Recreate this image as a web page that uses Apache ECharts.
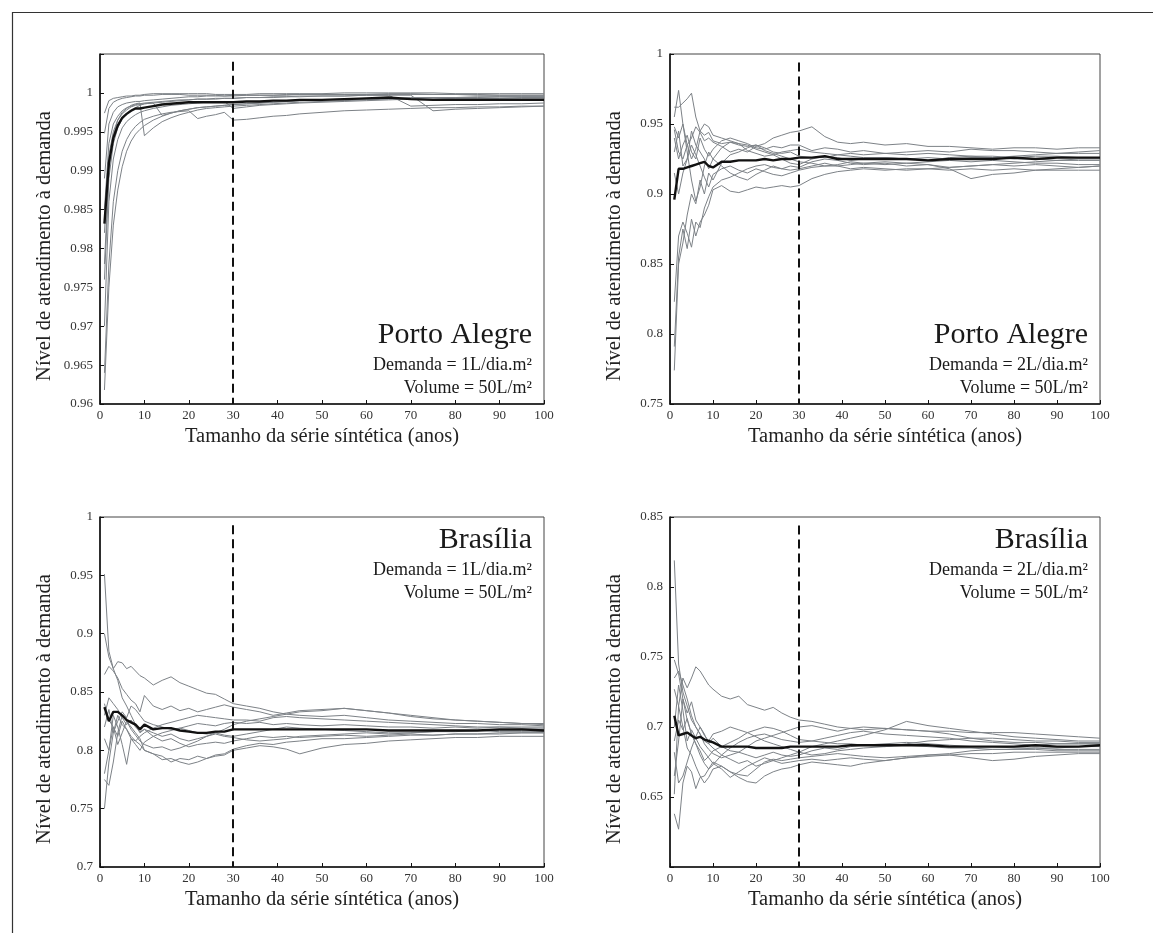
<!DOCTYPE html>
<html>
<head>
<meta charset="utf-8">
<script src="https://cdn.jsdelivr.net/npm/echarts@6/dist/echarts.min.js"></script>
<style>
html,body{margin:0;padding:0;background:#fff;}
#chart{width:1153px;height:933px;}
</style>
</head>
<body>
<div id="chart"></div>
<script>
// ---------- DATA ----------
const years = [1,2,3,4,5,6,7,8,9,10,12,14,16,18,20,22,24,26,28,30,33,36,39,42,45,50,55,60,65,70,75,80,85,90,95,100];
const xTicks = [0,10,20,30,40,50,60,70,80,90,100];
const refYear = 30;

const xTitle = 'Tamanho da série síntética (anos)';
const yTitle = 'Nível de atendimento à demanda';

const cityNames = ['Porto Alegre','Porto Alegre','Brasília','Brasília'];
const demandLabels = ['Demanda = 1L/dia.m²','Demanda = 2L/dia.m²','Demanda = 1L/dia.m²','Demanda = 2L/dia.m²'];
const volumeLabels = ['Volume = 50L/m²','Volume = 50L/m²','Volume = 50L/m²','Volume = 50L/m²'];

// Panel 1 : Porto Alegre, 1 L/dia.m²
const pa1Mean = [0.9832,0.9910,0.9942,0.9958,0.9968,0.9973,0.9977,0.9980,0.9980,0.9981,0.9983,0.9985,0.9986,0.9987,0.9988,0.9988,0.9988,0.9988,0.9988,0.9988,0.9989,0.9989,0.9990,0.9990,0.9991,0.9991,0.9992,0.9993,0.9994,0.9992,0.9991,0.9991,0.9991,0.9991,0.9991,0.9991];
const pa1Runs = [
 [0.9974,0.9990,0.9993,0.9994,0.9995,0.9996,0.9996,0.9997,0.9997,0.9998,0.9999,0.9999,0.9999,0.9999,0.9999,0.9999,0.9999,0.9998,0.9998,0.9998,0.9998,0.9999,0.9999,0.9999,0.9999,0.9999,1.0000,1.0000,1.0000,1.0000,1.0000,0.9999,0.9999,0.9999,0.9999,0.9999],
 [0.9948,0.9980,0.9988,0.9991,0.9993,0.9994,0.9995,0.9996,0.9996,0.9997,0.9997,0.9998,0.9998,0.9998,0.9997,0.9997,0.9997,0.9997,0.9996,0.9996,0.9997,0.9997,0.9997,0.9997,0.9998,0.9998,0.9998,0.9998,0.9998,0.9998,0.9998,0.9998,0.9998,0.9997,0.9997,0.9997],
 [0.9780,0.9900,0.9945,0.9965,0.9975,0.9980,0.9984,0.9986,0.9987,0.9945,0.9955,0.9963,0.9968,0.9972,0.9975,0.9978,0.9980,0.9981,0.9982,0.9983,0.9984,0.9985,0.9986,0.9987,0.9988,0.9989,0.9990,0.9991,0.9992,0.9992,0.9992,0.9993,0.9993,0.9993,0.9993,0.9993],
 [0.9640,0.9780,0.9860,0.9900,0.9925,0.9940,0.9950,0.9957,0.9962,0.9966,0.9970,0.9973,0.9975,0.9976,0.9977,0.9967,0.9970,0.9972,0.9975,0.9965,0.9966,0.9968,0.9970,0.9971,0.9973,0.9975,0.9977,0.9978,0.9979,0.9980,0.9981,0.9981,0.9982,0.9982,0.9983,0.9983],
 [0.9618,0.9750,0.9830,0.9875,0.9905,0.9925,0.9938,0.9947,0.9953,0.9958,0.9965,0.9970,0.9974,0.9977,0.9979,0.9981,0.9982,0.9983,0.9984,0.9985,0.9986,0.9987,0.9988,0.9989,0.9990,0.9991,0.9992,0.9993,0.9993,0.9994,0.9994,0.9994,0.9995,0.9995,0.9995,0.9995],
 [0.9850,0.9935,0.9960,0.9970,0.9977,0.9981,0.9983,0.9985,0.9986,0.9987,0.9988,0.9989,0.9990,0.9991,0.9991,0.9992,0.9992,0.9993,0.9993,0.9993,0.9994,0.9994,0.9995,0.9995,0.9996,0.9996,0.9996,0.9997,0.9997,0.9983,0.9984,0.9985,0.9985,0.9986,0.9986,0.9987],
 [0.9820,0.9920,0.9950,0.9965,0.9973,0.9978,0.9982,0.9984,0.9985,0.9986,0.9987,0.9988,0.9989,0.9990,0.9991,0.9992,0.9992,0.9992,0.9993,0.9993,0.9994,0.9994,0.9994,0.9995,0.9995,0.9996,0.9996,0.9997,0.9997,0.9997,0.9977,0.9979,0.9980,0.9981,0.9982,0.9983],
 [0.9700,0.9860,0.9915,0.9940,0.9955,0.9963,0.9968,0.9972,0.9975,0.9977,0.9980,0.9982,0.9984,0.9985,0.9986,0.9987,0.9988,0.9988,0.9989,0.9980,0.9982,0.9984,0.9985,0.9986,0.9987,0.9988,0.9989,0.9990,0.9991,0.9992,0.9992,0.9993,0.9993,0.9993,0.9994,0.9994],
 [0.9890,0.9960,0.9975,0.9982,0.9985,0.9987,0.9988,0.9989,0.9989,0.9990,0.9991,0.9992,0.9993,0.9994,0.9995,0.9995,0.9996,0.9996,0.9996,0.9997,0.9997,0.9997,0.9997,0.9998,0.9998,0.9998,0.9998,0.9998,0.9999,0.9999,0.9998,0.9998,0.9997,0.9997,0.9997,0.9997],
 [0.9760,0.9890,0.9935,0.9955,0.9966,0.9973,0.9978,0.9981,0.9984,0.9986,0.9987,0.9971,0.9974,0.9977,0.9979,0.9981,0.9982,0.9983,0.9984,0.9985,0.9986,0.9987,0.9988,0.9989,0.9990,0.9991,0.9991,0.9992,0.9993,0.9993,0.9994,0.9994,0.9994,0.9995,0.9995,0.9995]
];

// Panel 2 : Porto Alegre, 2 L/dia.m²
const pa2Mean = [0.896,0.918,0.918,0.919,0.920,0.921,0.922,0.923,0.920,0.919,0.923,0.923,0.924,0.924,0.924,0.925,0.924,0.925,0.925,0.926,0.926,0.927,0.925,0.925,0.925,0.925,0.925,0.924,0.925,0.925,0.925,0.926,0.925,0.926,0.926,0.926];
const pa2Runs = [
 [0.946,0.930,0.925,0.935,0.940,0.948,0.944,0.938,0.940,0.937,0.934,0.930,0.932,0.930,0.934,0.936,0.940,0.942,0.944,0.945,0.948,0.941,0.937,0.936,0.937,0.935,0.936,0.934,0.934,0.933,0.932,0.933,0.933,0.932,0.933,0.933],
 [0.955,0.974,0.950,0.930,0.910,0.895,0.905,0.920,0.930,0.925,0.933,0.937,0.936,0.935,0.932,0.930,0.928,0.925,0.922,0.921,0.925,0.927,0.926,0.924,0.925,0.926,0.925,0.924,0.926,0.927,0.926,0.927,0.928,0.929,0.930,0.931],
 [0.962,0.962,0.965,0.968,0.972,0.955,0.945,0.942,0.944,0.938,0.936,0.937,0.935,0.934,0.935,0.933,0.930,0.929,0.930,0.927,0.926,0.926,0.928,0.929,0.928,0.929,0.930,0.931,0.930,0.932,0.931,0.931,0.930,0.929,0.929,0.929],
 [0.823,0.870,0.880,0.872,0.862,0.880,0.876,0.890,0.898,0.905,0.910,0.912,0.915,0.918,0.920,0.921,0.919,0.918,0.920,0.919,0.923,0.925,0.924,0.922,0.921,0.922,0.920,0.921,0.919,0.920,0.921,0.920,0.921,0.920,0.919,0.920],
 [0.791,0.855,0.875,0.861,0.882,0.870,0.880,0.885,0.892,0.903,0.906,0.902,0.901,0.903,0.905,0.904,0.905,0.906,0.905,0.906,0.911,0.914,0.916,0.917,0.918,0.917,0.918,0.918,0.917,0.918,0.917,0.918,0.917,0.917,0.917,0.917],
 [0.774,0.850,0.865,0.885,0.900,0.893,0.910,0.900,0.915,0.910,0.922,0.928,0.930,0.933,0.935,0.931,0.929,0.927,0.925,0.923,0.922,0.920,0.920,0.921,0.922,0.923,0.922,0.923,0.924,0.923,0.924,0.923,0.922,0.922,0.921,0.921],
 [0.930,0.945,0.920,0.925,0.935,0.928,0.920,0.912,0.905,0.914,0.918,0.920,0.917,0.915,0.918,0.916,0.914,0.913,0.915,0.917,0.919,0.920,0.921,0.923,0.922,0.921,0.922,0.921,0.918,0.911,0.914,0.915,0.917,0.918,0.919,0.920],
 [0.940,0.925,0.935,0.942,0.930,0.925,0.940,0.932,0.927,0.932,0.938,0.940,0.938,0.936,0.933,0.932,0.934,0.933,0.935,0.935,0.931,0.933,0.932,0.930,0.931,0.929,0.928,0.929,0.928,0.927,0.927,0.926,0.927,0.927,0.926,0.926],
 [0.915,0.900,0.915,0.925,0.945,0.935,0.930,0.925,0.918,0.925,0.920,0.915,0.912,0.910,0.914,0.917,0.920,0.918,0.917,0.918,0.920,0.922,0.920,0.918,0.919,0.918,0.917,0.918,0.919,0.920,0.921,0.922,0.923,0.924,0.925,0.925],
 [0.948,0.940,0.950,0.935,0.925,0.932,0.945,0.950,0.948,0.942,0.940,0.938,0.936,0.931,0.929,0.927,0.928,0.930,0.931,0.932,0.930,0.929,0.928,0.927,0.926,0.926,0.925,0.926,0.925,0.926,0.926,0.925,0.925,0.924,0.924,0.924]
];

// Panel 3 : Brasília, 1 L/dia.m²
const bsb1Mean = [0.837,0.825,0.833,0.833,0.830,0.826,0.824,0.822,0.818,0.822,0.818,0.819,0.819,0.817,0.816,0.815,0.815,0.816,0.816,0.818,0.818,0.818,0.818,0.818,0.818,0.818,0.818,0.818,0.817,0.817,0.817,0.817,0.817,0.818,0.818,0.817];
const bsb1Runs = [
 [0.951,0.885,0.870,0.860,0.845,0.838,0.830,0.822,0.815,0.818,0.812,0.808,0.810,0.806,0.803,0.805,0.806,0.807,0.806,0.808,0.810,0.812,0.811,0.812,0.811,0.812,0.813,0.812,0.813,0.814,0.813,0.814,0.814,0.814,0.815,0.815],
 [0.900,0.880,0.870,0.876,0.875,0.870,0.872,0.868,0.864,0.862,0.856,0.860,0.863,0.858,0.855,0.852,0.849,0.848,0.844,0.840,0.838,0.836,0.833,0.831,0.830,0.829,0.830,0.828,0.826,0.825,0.824,0.823,0.823,0.822,0.822,0.821],
 [0.865,0.872,0.868,0.862,0.853,0.848,0.843,0.840,0.833,0.847,0.838,0.835,0.838,0.834,0.836,0.833,0.835,0.837,0.839,0.837,0.835,0.833,0.830,0.832,0.834,0.835,0.836,0.834,0.832,0.829,0.827,0.826,0.825,0.824,0.823,0.822],
 [0.840,0.826,0.820,0.812,0.825,0.818,0.810,0.808,0.812,0.815,0.819,0.822,0.824,0.826,0.828,0.830,0.829,0.828,0.827,0.826,0.826,0.825,0.828,0.829,0.828,0.827,0.826,0.825,0.824,0.823,0.822,0.821,0.820,0.820,0.819,0.819],
 [0.780,0.800,0.830,0.820,0.805,0.788,0.810,0.805,0.800,0.807,0.812,0.815,0.817,0.819,0.821,0.823,0.822,0.821,0.823,0.824,0.823,0.824,0.822,0.823,0.822,0.821,0.822,0.821,0.820,0.820,0.819,0.820,0.819,0.820,0.820,0.820],
 [0.775,0.770,0.790,0.815,0.830,0.825,0.820,0.815,0.810,0.800,0.797,0.792,0.793,0.790,0.788,0.790,0.793,0.795,0.796,0.800,0.802,0.804,0.803,0.801,0.797,0.802,0.805,0.806,0.808,0.809,0.810,0.811,0.811,0.812,0.812,0.812],
 [0.750,0.790,0.815,0.830,0.822,0.818,0.812,0.808,0.805,0.800,0.797,0.795,0.790,0.793,0.792,0.795,0.793,0.796,0.797,0.801,0.804,0.806,0.805,0.807,0.808,0.810,0.810,0.811,0.812,0.813,0.813,0.814,0.814,0.815,0.815,0.815],
 [0.820,0.835,0.815,0.825,0.833,0.828,0.838,0.835,0.830,0.825,0.822,0.820,0.818,0.819,0.817,0.815,0.814,0.815,0.813,0.812,0.814,0.816,0.818,0.820,0.819,0.818,0.817,0.816,0.815,0.815,0.816,0.817,0.817,0.816,0.816,0.816],
 [0.810,0.800,0.820,0.805,0.815,0.825,0.818,0.813,0.808,0.805,0.802,0.803,0.800,0.802,0.805,0.808,0.812,0.815,0.818,0.822,0.825,0.827,0.829,0.831,0.833,0.834,0.836,0.834,0.832,0.830,0.828,0.826,0.825,0.824,0.823,0.823],
 [0.830,0.845,0.840,0.835,0.828,0.822,0.826,0.820,0.816,0.818,0.815,0.812,0.814,0.810,0.808,0.810,0.812,0.814,0.812,0.811,0.809,0.808,0.809,0.810,0.812,0.813,0.814,0.815,0.814,0.815,0.816,0.816,0.817,0.817,0.817,0.818]
];

// Panel 4 : Brasília, 2 L/dia.m²
const bsb2Mean = [0.708,0.694,0.695,0.696,0.694,0.692,0.693,0.691,0.690,0.689,0.686,0.686,0.686,0.686,0.685,0.685,0.685,0.685,0.686,0.686,0.686,0.686,0.686,0.687,0.687,0.687,0.687,0.687,0.686,0.686,0.686,0.686,0.687,0.686,0.686,0.687];
const bsb2Runs = [
 [0.819,0.745,0.725,0.715,0.705,0.700,0.695,0.690,0.688,0.692,0.686,0.683,0.682,0.680,0.678,0.680,0.682,0.680,0.679,0.680,0.683,0.685,0.684,0.686,0.687,0.686,0.687,0.686,0.685,0.685,0.684,0.684,0.684,0.683,0.683,0.683],
 [0.727,0.715,0.735,0.728,0.735,0.743,0.740,0.735,0.730,0.727,0.722,0.720,0.722,0.716,0.714,0.712,0.714,0.710,0.707,0.705,0.704,0.702,0.700,0.699,0.698,0.699,0.698,0.697,0.697,0.696,0.696,0.696,0.695,0.694,0.693,0.692],
 [0.748,0.738,0.720,0.710,0.718,0.705,0.700,0.695,0.688,0.685,0.680,0.677,0.674,0.676,0.672,0.674,0.676,0.678,0.680,0.682,0.686,0.688,0.690,0.692,0.694,0.698,0.704,0.701,0.699,0.697,0.695,0.693,0.692,0.691,0.690,0.690],
 [0.735,0.740,0.730,0.720,0.708,0.700,0.695,0.688,0.684,0.681,0.678,0.680,0.682,0.686,0.690,0.692,0.694,0.696,0.698,0.700,0.701,0.699,0.697,0.699,0.700,0.699,0.698,0.697,0.695,0.692,0.690,0.689,0.689,0.688,0.688,0.688],
 [0.682,0.660,0.665,0.675,0.685,0.693,0.700,0.694,0.690,0.695,0.697,0.700,0.698,0.696,0.693,0.690,0.688,0.686,0.684,0.682,0.680,0.681,0.683,0.684,0.685,0.686,0.688,0.690,0.691,0.692,0.692,0.691,0.690,0.690,0.689,0.689],
 [0.652,0.715,0.700,0.685,0.680,0.672,0.665,0.660,0.664,0.670,0.672,0.668,0.664,0.661,0.660,0.665,0.668,0.670,0.671,0.673,0.675,0.674,0.673,0.672,0.674,0.676,0.678,0.680,0.680,0.681,0.681,0.682,0.682,0.682,0.682,0.682],
 [0.638,0.627,0.660,0.672,0.668,0.656,0.664,0.665,0.670,0.675,0.672,0.668,0.666,0.665,0.670,0.675,0.677,0.676,0.677,0.678,0.679,0.680,0.681,0.680,0.679,0.678,0.679,0.680,0.681,0.683,0.684,0.684,0.685,0.685,0.686,0.686],
 [0.700,0.730,0.712,0.690,0.698,0.692,0.686,0.682,0.678,0.674,0.670,0.664,0.668,0.672,0.675,0.678,0.676,0.674,0.675,0.676,0.677,0.676,0.677,0.678,0.677,0.676,0.678,0.679,0.680,0.678,0.676,0.677,0.679,0.680,0.681,0.681],
 [0.665,0.690,0.720,0.705,0.695,0.688,0.680,0.674,0.670,0.673,0.680,0.685,0.689,0.692,0.694,0.695,0.693,0.691,0.690,0.689,0.690,0.692,0.694,0.696,0.697,0.695,0.694,0.693,0.692,0.690,0.689,0.688,0.687,0.688,0.688,0.688],
 [0.690,0.705,0.698,0.706,0.695,0.688,0.683,0.676,0.679,0.683,0.686,0.689,0.692,0.696,0.698,0.700,0.699,0.697,0.694,0.691,0.690,0.689,0.688,0.688,0.687,0.688,0.689,0.688,0.687,0.686,0.686,0.685,0.685,0.684,0.684,0.684]
];

// y-axis ranges (min, max, interval) and labelled span
const yMins = [0.96, 0.75, 0.7, 0.6];
const yMaxs = [1.005, 1, 1, 0.85];
const yIntervals = [0.005, 0.05, 0.05, 0.05];
const yLabelLow = [0.96, 0.75, 0.7, 0.65];
const yLabelHigh = [1, 1, 1, 0.85];
const dashTops = [1.004, 0.994, 0.993, 0.844];

const meanSets = [pa1Mean, pa2Mean, bsb1Mean, bsb2Mean];
const runSets = [pa1Runs, pa2Runs, bsb1Runs, bsb2Runs];

// ---------- LAYOUT ----------
const FONT = "'Liberation Serif','Times New Roman',serif";
const grids = [
  {left:100, top:54, width:444, height:350},
  {left:670, top:54, width:430, height:350},
  {left:100, top:517, width:444, height:350},
  {left:670, top:517, width:430, height:350}
];

const chart = echarts.init(document.getElementById('chart'), null, {renderer:'canvas'});

const xAxes = [], yAxes = [], series = [], graphics = [];
grids.forEach((g, i) => {
  xAxes.push({
    type:'value', gridIndex:i, min:0, max:100, interval:10,
    name:xTitle, nameLocation:'middle', nameGap:22,
    nameTextStyle:{fontFamily:FONT, fontSize:20.5, color:'#222'},
    axisLine:{show:true, onZero:false, lineStyle:{color:'#111', width:1.6}},
    axisTick:{show:true, inside:true, length:4, lineStyle:{color:'#111'}},
    axisLabel:{fontFamily:FONT, fontSize:13, color:'#333', margin:5,
      formatter:v => xTicks.includes(Math.round(v)) ? String(Math.round(v)) : ''},
    splitLine:{show:false}
  });
  yAxes.push({
    type:'value', gridIndex:i, min:yMins[i], max:yMaxs[i], interval:yIntervals[i],
    name:yTitle, nameLocation:'middle', nameGap:45, nameRotate:90,
    nameTextStyle:{fontFamily:FONT, fontSize:20.5, color:'#222', padding:[0,34,0,0]},
    axisLine:{show:true, onZero:false, lineStyle:{color:'#111', width:1.6}},
    axisTick:{show:true, inside:true, length:4, lineStyle:{color:'#111'}},
    axisLabel:{fontFamily:FONT, fontSize:13, color:'#333', margin:7,
      formatter:v => {
        const r = Math.round(v*1000)/1000;
        if (r < yLabelLow[i] - 1e-6 || r > yLabelHigh[i] + 1e-6) return '';
        return String(r);
      }},
    splitLine:{show:false}
  });
  runSets[i].forEach((run) => {
    series.push({
      type:'line', xAxisIndex:i, yAxisIndex:i, symbol:'none', silent:true,
      data: years.map((yr, j) => [yr, run[j]]),
      lineStyle:{color:'#7d8287', width:1}, z:2
    });
  });
  series.push({
    type:'line', xAxisIndex:i, yAxisIndex:i, symbol:'none', silent:true,
    data: years.map((yr, j) => [yr, meanSets[i][j]]),
    lineStyle:{color:'#111', width:2.4}, z:4,
    markLine:{
      silent:true, symbol:['none','none'], label:{show:false},
      lineStyle:{color:'#111', type:[9,5], width:2},
      data:[[{coord:[refYear, dashTops[i]]},{coord:[refYear, yMins[i]]}]]
    }
  });

  const right = g.left + g.width - 12;
  const topPanel = i < 2;
  const cityY = topPanel ? g.top + g.height - 84 : g.top + 8;
  graphics.push({type:'text', right: 1153 - right, top: cityY, z:10,
    style:{text:cityNames[i], font:`30px ${FONT}`, fill:'#1a1a1a', textAlign:'right'}});
  graphics.push({type:'text', right: 1153 - right, top: cityY + 36, z:10,
    style:{text:demandLabels[i], font:`18px ${FONT}`, fill:'#1a1a1a', textAlign:'right'}});
  graphics.push({type:'text', right: 1153 - right, top: cityY + 59, z:10,
    style:{text:volumeLabels[i], font:`18px ${FONT}`, fill:'#1a1a1a', textAlign:'right'}});
});

graphics.push({type:'rect', left:10, top:10, z:0,
  shape:{x:0, y:0, width:1200, height:1000},
  style:{fill:'none', stroke:'#333', lineWidth:1.2}});

chart.setOption({
  backgroundColor:'#fff',
  animation:false,
  grid: grids.map(g => Object.assign({show:true, borderColor:'#444', borderWidth:1, backgroundColor:'transparent'}, g)),
  xAxis:xAxes,
  yAxis:yAxes,
  series:series,
  graphic:graphics
});
</script>
</body>
</html>
